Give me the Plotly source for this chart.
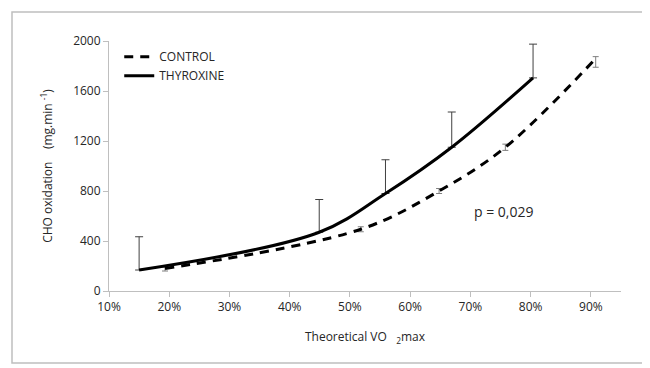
import plotly.graph_objects as go

# Data (x in % of theoretical VO2max, y in mg.min-1)
control_x = [19.3, 51.8, 64.8, 75.8, 90.8]
control_y = [180, 494, 800, 1150, 1860]
control_err_plus = [12, 20, 20, 25, 15]
control_err_minus = [20, 20, 20, 25, 70]

thyro_x = [15.0, 44.9, 55.9, 66.9, 80.4]
thyro_y = [168, 470, 780, 1150, 1705]
thyro_err_plus = [266, 262, 270, 282, 270]

x_ticks = [10, 20, 30, 40, 50, 60, 70, 80, 90]
x_tick_labels = ["10%", "20%", "30%", "40%", "50%", "60%", "70%", "80%", "90%"]
y_ticks = [0, 400, 800, 1200, 1600, 2000]

FONT = "Open Sans"
TXT = "#262626"

fig = go.Figure()
fig.add_trace(go.Scatter(
    x=control_x, y=control_y, mode="lines", name="CONTROL",
    line=dict(color="black", width=3, dash="9px,7px", shape="spline", smoothing=1),
    error_y=dict(type="data", symmetric=False, array=control_err_plus,
                 arrayminus=control_err_minus, color="#7f7f7f", thickness=1, width=3),
))
fig.add_trace(go.Scatter(
    x=thyro_x, y=thyro_y, mode="lines", name="THYROXINE",
    line=dict(color="black", width=3, shape="spline", smoothing=1),
    error_y=dict(type="data", symmetric=False, array=thyro_err_plus,
                 arrayminus=[0] * len(thyro_x), color="#404040", thickness=1, width=4),
))

fig.add_annotation(x=75.6, y=640, text="p = 0,029", showarrow=False,
                   font=dict(family=FONT, size=14, color=TXT))

# outer frame
fig.add_shape(type="rect", xref="paper", yref="paper",
              x0=(12 - 109) / 512, x1=(645 - 109) / 512,
              y0=(291 - 363) / 250, y1=(291 - 12) / 250,
              line=dict(color="#bfbfbf", width=1.5), layer="below")

fig.update_layout(
    width=642, height=360,
    margin=dict(l=101, r=29, t=33, b=77),
    paper_bgcolor="white", plot_bgcolor="white",
    font=dict(family=FONT, size=12, color=TXT),
    showlegend=True,
    legend=dict(x=0.02, y=0.995, xanchor="left", yanchor="top",
                bgcolor="rgba(0,0,0,0)", font=dict(family=FONT, size=12, color=TXT),
                tracegroupgap=0, itemwidth=30),
    xaxis=dict(range=[10, 95], tickvals=x_ticks, ticktext=x_tick_labels,
               showgrid=False, zeroline=False, showline=True, linecolor="#bfbfbf",
               ticks="outside", ticklen=5, tickcolor="#bfbfbf",
               title=dict(text="Theoretical VO   <sub>2</sub>max", standoff=18,
                          font=dict(family=FONT, size=12, color=TXT))),
    yaxis=dict(range=[0, 2000], tickvals=y_ticks,
               showgrid=False, zeroline=False, showline=True, linecolor="#bfbfbf",
               ticks="outside", ticklen=5, tickcolor="#bfbfbf",
               title=dict(text="CHO oxidation    (mg.min <sup>-1</sup>)", standoff=17,
                          font=dict(family=FONT, size=12, color=TXT))),
)

fig.write_html("out.html")
